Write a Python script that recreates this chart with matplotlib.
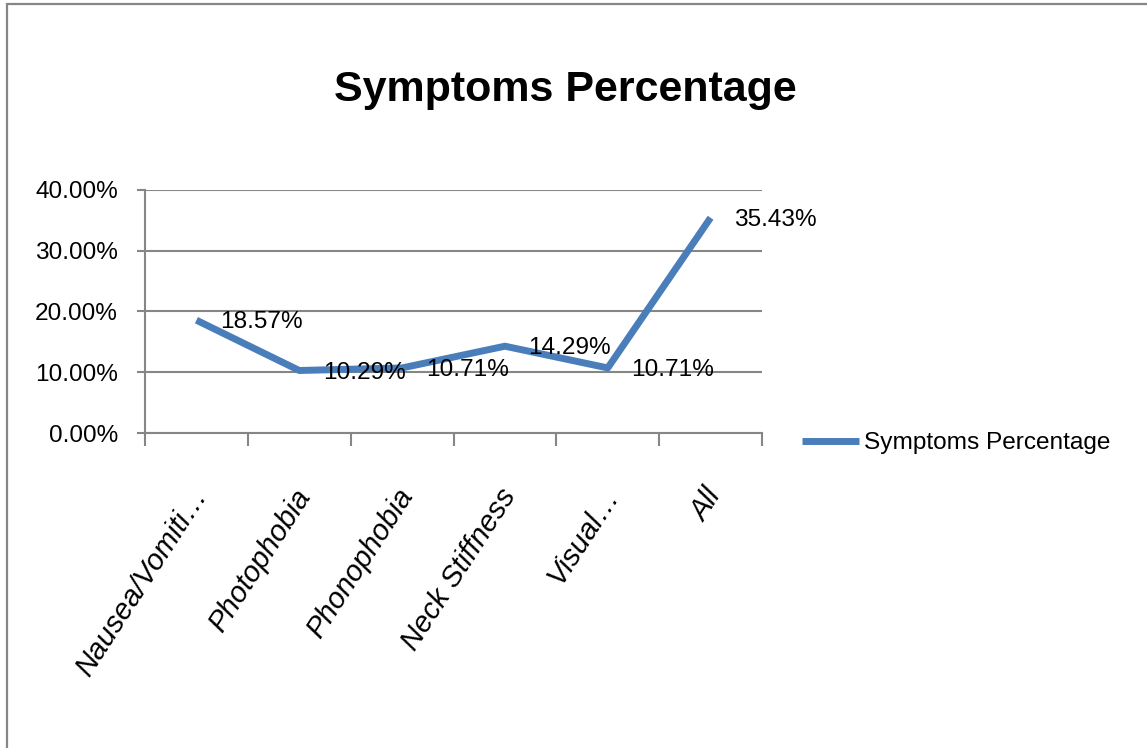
import matplotlib.pyplot as plt
import matplotlib.transforms as mtransforms
from matplotlib.patches import Rectangle
from matplotlib.ticker import PercentFormatter

plt.rcParams["font.family"] = ["Liberation Sans", "DejaVu Sans"]

symptoms = ["Nausea/Vomiti…", "Photophobia", "Phonophobia",
            "Neck Stiffness", "Visual…", "All"]
percent = [18.57, 10.29, 10.71, 14.29, 10.71, 35.43]
series_name = "Symptoms Percentage"

blue = "#4a7ebb"
grey = "#868686"
label_size = 17.6

fig = plt.figure(figsize=(11.47, 7.48), dpi=100)
fig.patches.append(Rectangle((7 / 1147, -0.1), 1.2, 1.1 - 4 / 748,
                             transform=fig.transFigure, fill=False,
                             edgecolor=grey, linewidth=1.6))

ax = fig.add_axes([145 / 1147, 1 - 433 / 748, 617 / 1147, 243 / 748])

x = [i + 0.5 for i in range(len(symptoms))]
ax.plot(x, percent, color=blue, linewidth=5, solid_joinstyle="round",
        solid_capstyle="butt", label=series_name)

for xi, v in zip(x, percent):
    ax.annotate(f"{v:.2f}%", (xi, v), xytext=(17, -1.5),
                textcoords="offset points", ha="left", va="center",
                fontsize=label_size)

ax.set_xlim(0, len(symptoms))
ax.set_ylim(0, 40)
ax.set_yticks([0, 10, 20, 30, 40])
ax.yaxis.set_major_formatter(PercentFormatter(decimals=2))
ax.grid(axis="y", color=grey, linewidth=1.5)
ax.set_axisbelow(True)

# category boundaries carry the tick marks, centres carry the labels
ax.set_xticks(range(len(symptoms) + 1))
ax.set_xticklabels([])
ax.set_xticks(x, symptoms, minor=True)
ax.tick_params(axis="x", which="major", length=9, width=1.5, color=grey,
               direction="out")
ax.tick_params(axis="x", which="minor", length=0, pad=42, labelsize=21)
ax.tick_params(axis="y", length=6, width=1.5, color=grey, pad=13.5,
               labelsize=label_size)
for lbl in ax.get_xticklabels(minor=True):
    lbl.set_rotation(57)
    lbl.set_rotation_mode("anchor")
    lbl.set_ha("right")
    lbl.set_va("center")
    lbl.set_style("italic")
    lbl.set_transform(lbl.get_transform() + mtransforms.ScaledTranslation(
        0.05, 0, fig.dpi_scale_trans))

for side in ["top", "right"]:
    ax.spines[side].set_visible(False)
for side in ["left", "bottom"]:
    ax.spines[side].set_color(grey)
    ax.spines[side].set_linewidth(1.5)

fig.text(565 / 1147, 1 - 90 / 748, "Symptoms Percentage", ha="center",
         va="center", fontsize=31, fontweight="bold")

ax.legend(loc="center left", bbox_to_anchor=(802 / 1147, 1 - 443 / 748),
          bbox_transform=fig.transFigure, frameon=False, fontsize=label_size,
          handlelength=2.35, handletextpad=0.2, borderpad=0,
          borderaxespad=0)

fig.savefig("out.png", dpi=100)
